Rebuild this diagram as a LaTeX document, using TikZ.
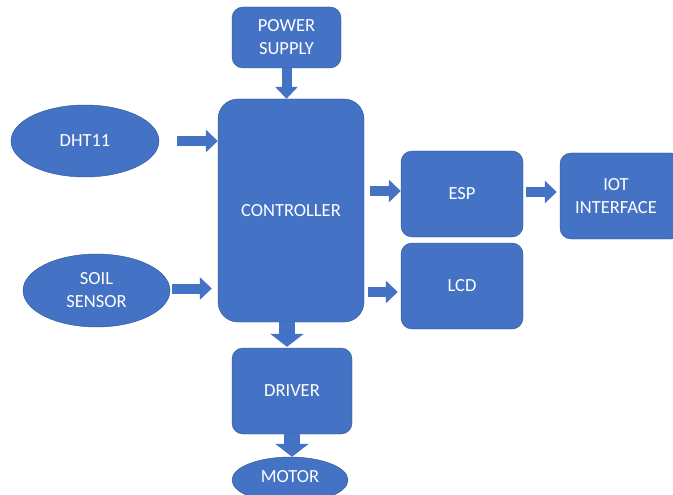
\documentclass[tikz,border=0pt]{standalone}
\usepackage{fontspec}
\setmainfont{Carlito}
\usetikzlibrary{arrows.meta,shapes.geometric,positioning}
\definecolor{boxblue}{HTML}{4472C4}
\definecolor{edgeblue}{HTML}{2F528F}
\tikzset{
  blk/.style={draw=edgeblue, fill=boxblue, rounded corners=11pt, text=white,
    align=center, inner sep=0pt, font=\fontsize{18.5}{23}\selectfont},
  oval/.style={ellipse, draw=edgeblue, fill=boxblue, text=white,
    align=center, inner sep=0pt, font=\fontsize{18.5}{23}\selectfont},
  fat/.style={boxblue, line width=10pt, -{Triangle[width=22pt,length=12pt]}},
  fatter/.style={boxblue, line width=16pt, -{Triangle[width=33pt,length=13pt]}}
}
\begin{document}
\begin{tikzpicture}[x=1pt,y=-1pt]
\clip (0,0) rectangle (673,495);
\fill[white] (0,0) rectangle (673,495);
% blocks
\node[blk, minimum width=109pt, minimum height=61pt] (power) at (286.5,37.5) {POWER\\SUPPLY};
\node[blk, rounded corners=20pt, minimum width=146pt, minimum height=223pt] (ctrl) at (291,210.5) {CONTROLLER};
\node[oval, minimum width=148pt, minimum height=72pt] (dht) at (85,141) {DHT11};
\node[oval, minimum width=147pt, minimum height=73pt] (soil) at (96.5,290.5) {SOIL\\SENSOR};
\node[blk, minimum width=122pt, minimum height=86pt] (esp) at (462,194) {ESP};
\node[blk, minimum width=122pt, minimum height=86pt] (lcd) at (462,286) {LCD};
\node[blk, minimum width=122pt, minimum height=86pt] (iot) at (621,196) {};
\node[text=white, align=center, font=\fontsize{18.5}{23}\selectfont] (iottxt) at (616,196) {IOT\\INTERFACE};
\node[blk, minimum width=120pt, minimum height=86pt] (driver) at (292,391) {DRIVER};
\node[oval, minimum width=116pt, minimum height=46pt] (motor) at (290,480) {};
\node[text=white, font=\fontsize{18.5}{23}\selectfont] (motortxt) at (290,477) {MOTOR};
% arrows
\draw[fat] (power.south) -- (power.south |- ctrl.north);
\draw[fat, shorten <=18pt] (dht.east) -- (dht.east -| ctrl.west);
\draw[fat, shorten <=2pt, shorten >=6pt] ([yshift=2pt]soil.east) -- ([yshift=2pt]soil.east -| ctrl.west);
\draw[fat, shorten <=6pt] ([yshift=3pt]esp.west -| ctrl.east) -- ([yshift=3pt]esp.west);
\draw[fat, shorten <=4pt, shorten >=3pt] ([yshift=-6pt]lcd.west -| ctrl.east) -- ([yshift=-6pt]lcd.west);
\draw[fat, shorten <=3pt, shorten >=3pt] ([yshift=2pt]esp.east) -- ([yshift=2pt]esp.east -| iot.west);
\draw[fatter, shorten >=1pt] ([xshift=-4pt]ctrl.south) -- ([xshift=-4pt]ctrl.south |- driver.north);
\draw[fatter] (driver.south) -- (driver.south |- motor.north);
\end{tikzpicture}
\end{document}
